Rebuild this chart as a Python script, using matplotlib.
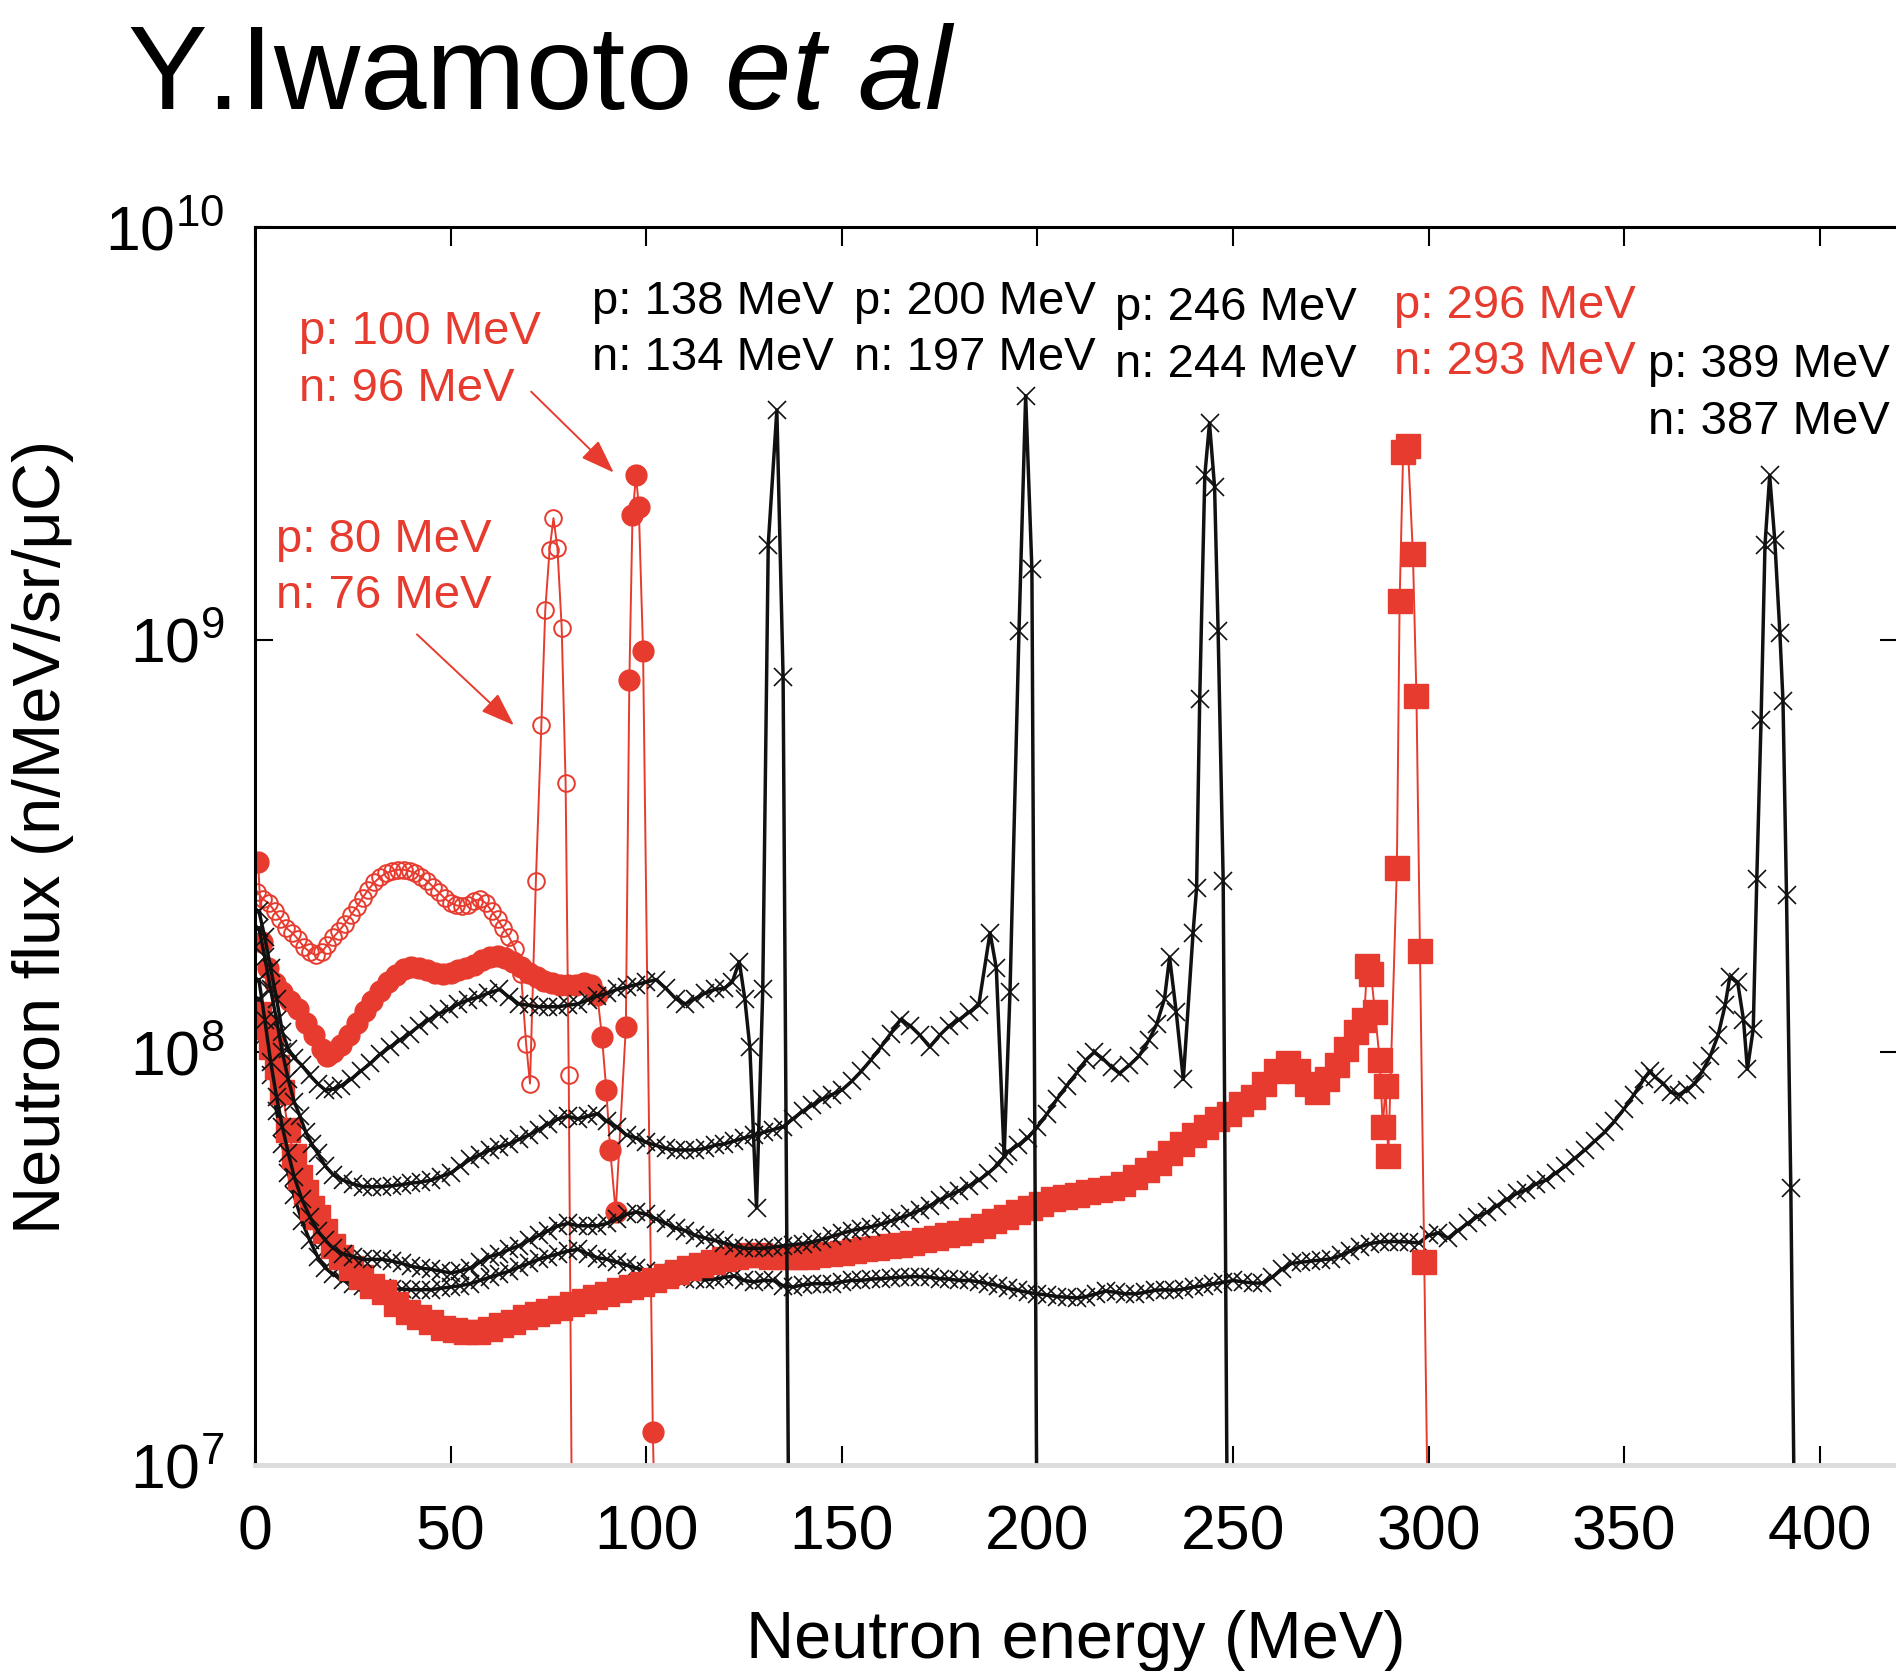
import matplotlib
matplotlib.use("Agg")
import matplotlib.pyplot as plt
from matplotlib.ticker import LogLocator, NullLocator, MultipleLocator

plt.rcParams['font.family'] = ['Liberation Sans', 'DejaVu Sans']
plt.rcParams['mathtext.fontset'] = 'custom'
plt.rcParams['mathtext.rm'] = 'Liberation Sans'
plt.rcParams['mathtext.it'] = 'Liberation Sans:italic'

RED = '#e63b2e'
SCALE = 1e8  # flux lists below are in units of 1e8 n/MeV/sr/uC

# p: 80 MeV -> n: 76 MeV
e80 = [0.6, 2, 3.5, 5, 6.5, 8, 9.5, 11, 12.5, 14, 15.5, 17, 18.5, 20, 21.5, 23, 24.5, 26, 27.5, 29,
       30.5, 32, 33.5, 35, 36.5, 38, 39.5, 41, 42.5, 44, 45.5, 47, 48.5, 50, 51.5, 53, 54.5, 56, 57.5, 59,
       60.5, 62, 63.5, 65, 66.5, 68, 69.3, 70.3, 71.8, 73.2, 74.2, 75.3, 76.3, 77.3, 78.4, 79.4, 80.2, 81.2]
f80 = [2.45, 2.35, 2.3, 2.2, 2.1, 2.0, 1.95, 1.88, 1.8, 1.75, 1.72, 1.75, 1.82, 1.9, 1.97, 2.05, 2.15, 2.25, 2.37, 2.48,
       2.58, 2.66, 2.72, 2.75, 2.77, 2.77, 2.75, 2.72, 2.66, 2.6, 2.52, 2.44, 2.36, 2.3, 2.27, 2.26, 2.28, 2.33, 2.35, 2.3,
       2.2, 2.1, 2.0, 1.9, 1.78, 1.55, 1.05, 0.84, 2.6, 6.2, 11.8, 16.5, 19.7, 16.7, 10.7, 4.5, 0.88, 0.04]

# p: 100 MeV -> n: 96 MeV
e100 = [0.8, 1.8, 3.2, 5, 7, 9, 11, 13, 15, 17, 18.5, 20, 22, 24, 26, 28, 30, 32, 34, 36,
        38, 40, 42, 44, 46, 48, 50, 52, 54, 56, 58, 60, 62, 64, 66, 68, 70, 72, 74, 76,
        78, 80, 82, 84, 86, 87.5, 88.7, 89.8, 90.8, 92.2, 94.8, 95.7, 96.5, 97.4, 98.1, 99.2, 101.7, 102.8]
f100 = [2.9, 1.85, 1.6, 1.47, 1.4, 1.33, 1.27, 1.18, 1.1, 1.02, 0.98, 1.0, 1.04, 1.1, 1.18, 1.26, 1.33, 1.41, 1.48, 1.54,
        1.59, 1.61, 1.6, 1.58, 1.56, 1.55, 1.56, 1.58, 1.6, 1.63, 1.67, 1.7, 1.71, 1.69, 1.66, 1.61, 1.56, 1.52, 1.49, 1.47,
        1.46, 1.46, 1.46, 1.47, 1.46, 1.38, 1.09, 0.81, 0.58, 0.41, 1.15, 8.0, 20.0, 25.0, 21.0, 9.4, 0.12, 0.04]

# p: 138 MeV -> n: 134 MeV
e138 = [1, 2.5, 4, 5.5, 7, 8.5, 10, 12, 14, 16, 18, 20, 22, 24.5, 27, 29.5, 32, 34.5, 37, 39.5,
        42, 44.5, 47, 49.5, 52, 54.5, 57, 59.5, 62.5, 65, 67.5, 70, 72.5, 75, 77.5, 80, 82.5, 85, 87.5, 90,
        92.5, 95, 97.5, 100, 102.5, 105, 107.5, 110, 112.5, 115, 117.5, 120, 122, 123.8, 125.2, 126.5, 128.2, 129.8,
        131.2, 133.4, 135, 136.6]
f138 = [2.2, 1.9, 1.6, 1.35, 1.12, 1.02, 0.97, 0.93, 0.88, 0.84, 0.81, 0.815, 0.83, 0.86, 0.9, 0.94, 0.99, 1.03, 1.07, 1.11,
        1.16, 1.2, 1.24, 1.27, 1.31, 1.34, 1.36, 1.39, 1.42, 1.36, 1.31, 1.3, 1.29, 1.29, 1.29, 1.3, 1.31, 1.34, 1.37, 1.39,
        1.42, 1.44, 1.46, 1.48, 1.5, 1.43, 1.35, 1.31, 1.35, 1.39, 1.42, 1.43, 1.48, 1.66, 1.35, 1.03, 0.42, 1.42,
        17.0, 36.0, 8.1, 0.04]

# p: 200 MeV -> n: 197 MeV
e200 = [1, 2.5, 4, 5.5, 7, 8.5, 10, 11.5, 13, 14.5, 16, 18, 20, 22.5, 25, 27.5, 30, 32.5, 35, 37.5,
        40, 42.5, 45, 47.5, 50, 52.5, 55, 57.5, 60, 62.5, 65, 67.5, 70, 72.5, 75, 77.5, 80, 82.5, 85, 87.5,
        90, 92.5, 95, 97.5, 100, 102.5, 105, 107.5, 110, 112.5, 115, 117.5, 120, 122.5, 125, 127.5, 130, 132.5, 135, 137.5,
        140, 142.5, 145, 147.5, 150, 152.5, 155, 157.5, 160, 162.5, 165, 167.5, 170, 172.5, 175, 177.5, 180, 182.5, 185,
        187.9, 189.5, 191.5, 193.0, 195.3, 197.0, 198.6, 200.0]
f200 = [2.0, 1.7, 1.42, 1.2, 1.0, 0.86, 0.76, 0.7, 0.64, 0.6, 0.57, 0.53, 0.505, 0.49, 0.48, 0.473, 0.472, 0.473, 0.475, 0.478,
        0.482, 0.485, 0.49, 0.5, 0.51, 0.53, 0.55, 0.565, 0.58, 0.59, 0.6, 0.615, 0.63, 0.65, 0.67, 0.69, 0.7, 0.69, 0.7, 0.71,
        0.68, 0.66, 0.63, 0.62, 0.605, 0.595, 0.585, 0.58, 0.58, 0.58, 0.585, 0.595, 0.6, 0.61, 0.62, 0.63, 0.64, 0.65, 0.66, 0.69,
        0.72, 0.745, 0.77, 0.79, 0.81, 0.85, 0.9, 0.96, 1.03, 1.11, 1.2, 1.16, 1.1, 1.03, 1.1, 1.16, 1.2, 1.25, 1.3,
        1.95, 1.6, 0.56, 1.4, 10.5, 39.0, 14.8, 0.04]

# p: 246 MeV -> n: 244 MeV
e246 = [1, 2.5, 4, 5.5, 7, 8.5, 10, 12, 14, 16, 18, 20, 22.5, 25, 27.5, 30, 32.5, 35, 37.5, 40,
        42.5, 45, 47.5, 50, 52.5, 55, 57.5, 60, 62.5, 65, 67.5, 70, 72.5, 75, 77.5, 80, 82.5, 85, 87.5, 90,
        92.5, 95, 97.5, 100, 102.5, 105, 107.5, 110, 112.5, 115, 117.5, 120, 122.5, 125, 127.5, 130, 132.5, 135, 137.5, 140,
        142.5, 145, 147.5, 150, 152.5, 155, 157.5, 160, 162.5, 165, 167.5, 170, 172.5, 175, 177.5, 180, 182.5, 185, 187.5, 190,
        192.5, 195, 197.5, 200, 202.5, 205, 207.5, 210, 212.5, 214.5, 216.5, 219, 221, 223.5, 226, 228.5, 230.5, 232.5,
        233.8, 235.5, 237.3, 239.8, 240.7, 241.5, 242.8, 244.0, 245.3, 246.2, 247.5, 248.7]
f246 = [1.5, 1.2, 0.95, 0.78, 0.66, 0.57, 0.5, 0.44, 0.4, 0.37, 0.35, 0.335, 0.325, 0.32, 0.315, 0.315, 0.315, 0.312, 0.308, 0.303,
        0.3, 0.298, 0.295, 0.292, 0.295, 0.3, 0.31, 0.32, 0.325, 0.333, 0.34, 0.35, 0.36, 0.37, 0.38, 0.385, 0.38, 0.38, 0.38, 0.385,
        0.395, 0.405, 0.41, 0.405, 0.395, 0.385, 0.375, 0.37, 0.36, 0.355, 0.35, 0.345, 0.34, 0.335, 0.335, 0.335, 0.337, 0.34, 0.342, 0.344,
        0.347, 0.352, 0.358, 0.364, 0.37, 0.374, 0.378, 0.383, 0.39, 0.397, 0.405, 0.415, 0.425, 0.439, 0.45, 0.462, 0.475, 0.49, 0.51, 0.535,
        0.575, 0.595, 0.62, 0.66, 0.71, 0.77, 0.83, 0.89, 0.96, 1.0, 0.97, 0.92, 0.89, 0.93, 0.98, 1.07, 1.17, 1.35,
        1.7, 1.25, 0.86, 1.95, 2.5, 7.2, 25.0, 33.5, 23.4, 10.5, 2.6, 0.04]

# p: 296 MeV -> n: 293 MeV
e296 = [1, 2.5, 4, 5.5, 7, 8.5, 10, 11.5, 13, 14.5, 16, 18, 20, 22, 24.5, 27, 30, 33, 36, 39,
        42, 45, 48, 51, 54, 57, 60, 63, 66, 69, 72, 75, 78, 81, 84, 87, 90, 93, 96, 99,
        102, 105, 108, 111, 114, 117, 120, 123, 126, 129, 132, 135, 138, 141, 144, 147, 150, 153, 156, 159,
        162, 165, 168, 171, 174, 177, 180, 183, 186, 189, 192, 195, 198, 201, 204, 207, 210, 213, 216, 219,
        222, 225, 228, 231, 234, 237, 240, 243, 246, 249, 252, 255, 258, 261, 264,
        266.5, 269, 271.5, 274, 276.5, 279, 281.5, 283.5, 284.3, 285.3, 286.3, 287.5, 288.3, 289.0, 289.7,
        291.9, 292.6, 293.5, 294.7, 296.0, 296.9, 297.8, 298.9, 300.2]
f296 = [1.24, 1.15, 1.03, 0.92, 0.8, 0.65, 0.56, 0.5, 0.46, 0.42, 0.4, 0.37, 0.34, 0.32, 0.3, 0.285, 0.272, 0.262, 0.245, 0.235,
        0.228, 0.222, 0.215, 0.212, 0.21, 0.21, 0.213, 0.218, 0.222, 0.228, 0.232, 0.236, 0.24, 0.245, 0.25, 0.255, 0.26, 0.265, 0.27, 0.275,
        0.28, 0.287, 0.293, 0.3, 0.305, 0.31, 0.315, 0.32, 0.322, 0.322, 0.32, 0.32, 0.32, 0.32, 0.322, 0.325, 0.327, 0.33, 0.333, 0.335,
        0.34, 0.342, 0.345, 0.35, 0.355, 0.36, 0.365, 0.372, 0.38, 0.39, 0.4, 0.41, 0.42, 0.43, 0.44, 0.447, 0.45, 0.46, 0.465, 0.47,
        0.48, 0.5, 0.52, 0.54, 0.57, 0.6, 0.63, 0.66, 0.69, 0.71, 0.75, 0.78, 0.84, 0.9, 0.94,
        0.9, 0.84, 0.8, 0.86, 0.93, 1.02, 1.12, 1.2, 1.62, 1.55, 1.25, 0.96, 0.66, 0.83, 0.56,
        2.8, 12.4, 28.5, 29.5, 16.1, 7.3, 1.76, 0.31, 0.04]

# p: 389 MeV -> n: 387 MeV
e389 = [1, 2.5, 4, 5.5, 7, 8.5, 10, 12, 14, 16, 18,
        20, 22.5, 25, 27.5, 30, 32.5, 35, 37.5, 40, 42.5, 45, 47.5, 50, 52.5, 55, 57.5, 60, 62.5, 65, 67.5,
        70, 72.5, 75, 77.5, 80, 82.5, 85, 87.5, 90, 92.5, 95, 97.5, 100, 102.5, 105, 107.5, 110, 112.5, 115, 117.5,
        120, 122.5, 125, 127.5, 130, 132.5, 135, 137.5, 140, 142.5, 145, 147.5, 150, 152.5, 155, 157.5, 160, 162.5, 165, 167.5,
        170, 172.5, 175, 177.5, 180, 182.5, 185, 187.5, 190, 192.5, 195, 197.5, 200, 202.5, 205, 207.5, 210, 212.5, 215, 217.5,
        220, 222.5, 225, 227.5, 230, 232.5, 235, 237.5, 240, 242.5, 245, 247.5, 250, 252.5, 255, 257.5, 260, 262.5, 265, 267.5,
        270, 272.5, 275, 277.5, 280, 282.5, 285, 287.5, 290, 292.5, 295, 297.5, 300, 302.5, 305, 307.5, 310, 312.5, 315, 317.5,
        320, 322.5, 325, 327.5, 330, 332.5, 335, 337.5, 340, 342.5, 345, 347.5, 350, 352.5, 355,
        356.5, 358, 360, 362, 364, 366, 368, 370, 372, 374, 375.8, 377, 379, 380.5, 381.5, 383, 383.9,
        385, 386, 387.2, 388.5, 389.8, 390.6, 391.5, 392.6, 393.8]
f389 = [1.35, 1.1, 0.88, 0.72, 0.6, 0.51, 0.45, 0.39, 0.35, 0.32, 0.3,
        0.29, 0.28, 0.275, 0.272, 0.27, 0.268, 0.267, 0.267, 0.266, 0.266, 0.266, 0.268, 0.27, 0.272, 0.275, 0.28, 0.285, 0.29, 0.295, 0.302,
        0.308, 0.315, 0.32, 0.325, 0.33, 0.333, 0.325, 0.318, 0.315, 0.31, 0.305, 0.3, 0.296, 0.292, 0.288, 0.285, 0.283, 0.282, 0.281, 0.282,
        0.285, 0.287, 0.28, 0.278, 0.28, 0.28, 0.272, 0.27, 0.273, 0.275, 0.275, 0.275, 0.278, 0.28, 0.28, 0.282, 0.283, 0.284, 0.285, 0.286,
        0.286, 0.285, 0.283, 0.282, 0.28, 0.28, 0.278, 0.275, 0.272, 0.268, 0.265, 0.262, 0.26, 0.258, 0.256, 0.255, 0.254, 0.256, 0.26, 0.264,
        0.262, 0.26, 0.26, 0.262, 0.265, 0.266, 0.265, 0.267, 0.27, 0.272, 0.275, 0.277, 0.28, 0.278, 0.276, 0.276, 0.285, 0.298, 0.308, 0.31,
        0.312, 0.314, 0.316, 0.322, 0.33, 0.338, 0.344, 0.347, 0.348, 0.348, 0.347, 0.345, 0.36, 0.365, 0.355, 0.37, 0.385, 0.4, 0.41, 0.425,
        0.44, 0.455, 0.465, 0.48, 0.49, 0.51, 0.53, 0.555, 0.58, 0.61, 0.64, 0.68, 0.73, 0.79, 0.86,
        0.9, 0.87, 0.84, 0.8, 0.79, 0.81, 0.84, 0.9, 0.98, 1.1, 1.3, 1.52, 1.48, 1.2, 0.91, 1.14, 2.63,
        6.4, 17.0, 25.0, 17.4, 10.4, 7.1, 2.4, 0.47, 0.04]


def flux(vals):
    return [v * SCALE for v in vals]


fig = plt.figure(figsize=(18.96, 16.71), dpi=100)
ax = fig.add_axes([255 / 1896, 1 - 1465 / 1671, 1643 / 1896, 1238 / 1671])

cross = dict(color='#111111', lw=2.5, marker='x', ms=13, mew=1.2)

ax.plot(e80, flux(f80), color=RED, lw=1.4, marker='o', ms=12, mfc='none', mec=RED, mew=1.4)
ax.plot(e100, flux(f100), color=RED, lw=1.4, marker='o', ms=15, mfc=RED, mec=RED)
ax.plot(e389, flux(f389), **cross)
ax.plot(e296, flux(f296), color=RED, lw=1.4, marker='s', ms=17, mfc=RED, mec=RED)
ax.plot(e138, flux(f138), **cross)
ax.plot(e200, flux(f200), **cross)
ax.plot(e246, flux(f246), **cross)

ax.set_yscale('log')
ax.set_xlim(0, 420)
ax.set_ylim(1e7, 1e10)
ax.xaxis.set_major_locator(MultipleLocator(50))
ax.yaxis.set_major_locator(LogLocator(base=10, numticks=10))
ax.yaxis.set_minor_locator(NullLocator())
ax.tick_params(which='major', direction='in', top=True, right=True,
               length=14, width=1.5, labelsize=45, color='black')
ax.tick_params(axis='x', pad=28)
ax.tick_params(axis='y', pad=22, length=13)

for side in ('left', 'top', 'right'):
    ax.spines[side].set_linewidth(2.2)
ax.spines['bottom'].set_color('#dcdcdc')
ax.spines['bottom'].set_linewidth(3.5)

# beam / peak energy labels, anchored at the baseline of the lower line
labels = [
    ("p: 100 MeV\nn: 96 MeV", 11.2, 3.79e9, RED),
    ("p: 80 MeV\nn: 76 MeV", 5.4, 1.19e9, RED),
    ("p: 138 MeV\nn: 134 MeV", 86.1, 4.5e9, 'black'),
    ("p: 200 MeV\nn: 197 MeV", 153.1, 4.5e9, 'black'),
    ("p: 246 MeV\nn: 244 MeV", 219.8, 4.33e9, 'black'),
    ("p: 296 MeV\nn: 293 MeV", 291.1, 4.4e9, RED),
    ("p: 389 MeV\nn: 387 MeV", 356.0, 3.15e9, 'black'),
]
for txt, x, y, c in labels:
    ax.text(x, y, txt, color=c, fontsize=34, ha='left', va='baseline', linespacing=1.37)

arrow = dict(arrowstyle='-|>,head_length=0.7,head_width=0.25', color=RED, lw=1.4,
             mutation_scale=30, shrinkA=0, shrinkB=0)
ax.annotate('', xy=(91.7, 2.54e9), xytext=(70.6, 3.99e9), arrowprops=arrow)
ax.annotate('', xy=(66.2, 6.2e8), xytext=(41.4, 1.03e9), arrowprops=arrow)

fig.text(1076 / 1896, 1 - 1610 / 1671, 'Neutron energy (MeV)', fontsize=48, ha='center', va='top')
fig.text(43 / 1896, 0.499, 'Neutron flux (n/MeV/sr/μC)', fontsize=48, ha='center', va='center', rotation=90)
fig.text(127 / 1896, 1 - 109 / 1671, r'Y.Iwamoto $\mathit{et\ al}$', fontsize=86, ha='left', va='baseline')

fig.savefig('out.png', dpi=100)
